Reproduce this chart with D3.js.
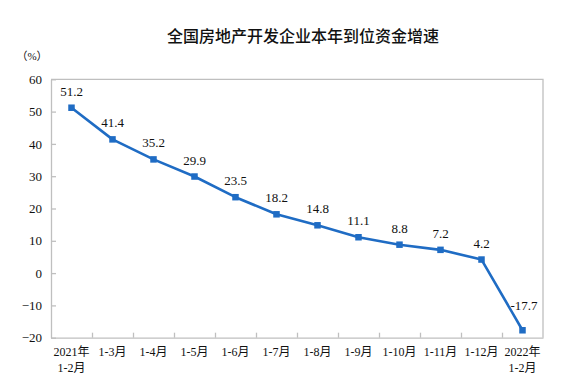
<!DOCTYPE html>
<html>
<head>
<meta charset="utf-8">
<script src="https://cdn.jsdelivr.net/npm/d3@7"></script>
<style>
  body { margin: 0; background: #fff; }
  svg { display: block; }
  .num { font-family: "Liberation Serif", "Noto Sans CJK SC", serif; fill: #111; }
</style>
</head>
<body>
<svg id="chart" width="579" height="390"></svg>
<script>
// data
const categories = ['2021年\n1-2月', '1-3月', '1-4月', '1-5月', '1-6月', '1-7月',
  '1-8月', '1-9月', '1-10月', '1-11月', '1-12月', '2022年\n1-2月']
const values = [51.2, 41.4, 35.2, 29.9, 23.5, 18.2, 14.8, 11.1, 8.8, 7.2, 4.2, -17.7]
const yTicks = [-20, -10, 0, 10, 20, 30, 40, 50, 60]
const title = '全国房地产开发企业本年到位资金增速'
const unit = '（%）'

const svg = d3.select('#chart')
const plotLeft = 51, plotRight = 543, plotTop = 79.3, plotBottom = 337.7
const lineColor = '#1f6cc4'
const frameColor = '#bfbfbf'

const x = d3.scaleBand().domain(categories).range([plotLeft, plotRight])
const y = d3.scaleLinear().domain([-20, 60]).range([plotBottom, plotTop])

// title + unit
svg.append('text')
  .attr('x', 303).attr('y', 42)
  .attr('text-anchor', 'middle')
  .style('font-family', '"Noto Sans CJK SC", sans-serif')
  .style('font-size', '16px')
  .style('font-weight', 500)
  .style('fill', '#111')
  .text(title)

svg.append('text')
  .attr('class', 'num')
  .attr('x', 32).attr('y', 60)
  .attr('text-anchor', 'middle')
  .style('font-size', '11px')
  .text(unit)

// frame (top / right)
svg.append('path')
  .attr('d', `M ${plotLeft} ${plotTop} L ${plotRight} ${plotTop} L ${plotRight} ${plotBottom}`)
  .attr('fill', 'none')
  .attr('stroke', frameColor)
  .attr('stroke-width', 1.3)

// y axis, ticks point inward
const yAxis = svg.append('g')
  .attr('transform', `translate(${plotLeft},0)`)
  .call(d3.axisLeft(y).tickValues(yTicks).tickSizeInner(-5).tickSizeOuter(0).tickPadding(9))
yAxis.select('.domain').attr('stroke', frameColor).attr('stroke-width', 1.3)
yAxis.selectAll('.tick line').attr('stroke', frameColor).attr('stroke-width', 1.3)
yAxis.selectAll('.tick text')
  .attr('class', 'num')
  .style('font-size', '13px')

// x axis: boundary ticks between categories
const xb = d3.scaleLinear().domain([0, categories.length]).range([plotLeft, plotRight])
const xAxis = svg.append('g')
  .attr('transform', `translate(0,${plotBottom})`)
  .call(d3.axisBottom(xb).tickValues(d3.range(1, categories.length)).tickSizeInner(-5).tickSizeOuter(0).tickFormat(''))
xAxis.select('.domain').attr('stroke', frameColor).attr('stroke-width', 1.3)
xAxis.selectAll('.tick line').attr('stroke', frameColor).attr('stroke-width', 1.3)

// category labels (may have two lines)
const catLabels = svg.append('g')
  .selectAll('text')
  .data(categories)
  .join('text')
  .attr('class', 'num')
  .attr('text-anchor', 'middle')
  .style('font-size', '12px')
  .attr('transform', d => `translate(${x(d) + x.bandwidth() / 2},356)`)
catLabels.selectAll('tspan')
  .data(d => d.split('\n'))
  .join('tspan')
  .attr('x', 0)
  .attr('y', (d, i) => i * 15.5)
  .text(d => d)

// line
const cx = (d, i) => x(categories[i]) + x.bandwidth() / 2
const line = d3.line()
  .x(cx)
  .y(d => y(d))

svg.append('path')
  .datum(values)
  .attr('fill', 'none')
  .attr('stroke', lineColor)
  .attr('stroke-width', 2.6)
  .attr('stroke-linejoin', 'round')
  .attr('d', line)

// square markers
const ms = 6.5
svg.append('g')
  .selectAll('rect')
  .data(values)
  .join('rect')
  .attr('x', (d, i) => cx(d, i) - ms / 2)
  .attr('y', d => y(d) - ms / 2)
  .attr('width', ms)
  .attr('height', ms)
  .attr('fill', lineColor)

// value labels: above the point, the negative one sits to the right
svg.append('g')
  .selectAll('text')
  .data(values)
  .join('text')
  .attr('class', 'num')
  .style('font-size', '13px')
  .attr('text-anchor', d => d < 0 ? 'start' : 'middle')
  .attr('x', (d, i) => d < 0 ? cx(d, i) - 12 : cx(d, i))
  .attr('y', d => d < 0 ? y(d) - 20 : y(d) - 12)
  .text(d => d.toFixed(1))
</script>
</body>
</html>
